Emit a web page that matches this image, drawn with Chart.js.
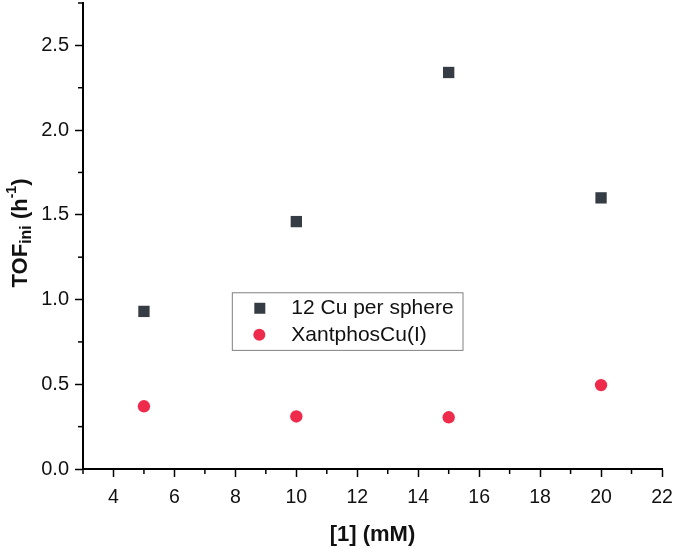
<!DOCTYPE html>
<html>
<head>
<meta charset="utf-8">
<script src="https://cdn.jsdelivr.net/npm/chart.js@4/dist/chart.umd.min.js"></script>
<style>
  html, body { margin: 0; padding: 0; background: #fff; }
  #wrap { width: 677px; height: 548px; }
</style>
</head>
<body>
<div id="wrap"><canvas id="c" width="677" height="548"></canvas></div>
<script>
// data
const concentrations = [5, 10, 15, 20];
const cuSphere = [0.93, 1.46, 2.34, 1.60];
const xantphos = [0.37, 0.31, 0.305, 0.495];
const seriesNames = ["12 Cu per sphere", "XantphosCu(I)"];
const xTicks = [4, 6, 8, 10, 12, 14, 16, 18, 20, 22];
const yTicks = [0, 0.5, 1.0, 1.5, 2.0, 2.5];

const FONT = "'Liberation Sans', Arial, sans-serif";
const squareColor = "#353c44";
const circleColor = "#ef2b4c";

// minor ticks, y title with sub/superscript, and the boxed legend
const extrasPlugin = {
    id: "extras",
    afterDraw(chart) {
        const ctx = chart.ctx;
        const xs = chart.scales.x, ys = chart.scales.y;
        const area = chart.chartArea;
        ctx.save();
        ctx.strokeStyle = "#000";
        ctx.lineWidth = 1.5;
        // minor ticks
        for (let v = 3; v <= 21; v += 2) {
            const px = xs.getPixelForValue(v);
            ctx.beginPath();
            ctx.moveTo(px, area.bottom);
            ctx.lineTo(px, area.bottom + 5);
            ctx.stroke();
        }
        for (let v = 0.25; v <= 2.75; v += 0.5) {
            const py = ys.getPixelForValue(v);
            ctx.beginPath();
            ctx.moveTo(area.left, py);
            ctx.lineTo(area.left - 5, py);
            ctx.stroke();
        }

        // y axis title
        const parts = [
            { t: "TOF", size: 22, dy: 0 },
            { t: "ini", size: 16, dy: 6 },
            { t: " (h", size: 22, dy: 0 },
            { t: "-1", size: 14, dy: -9 },
            { t: ")", size: 22, dy: 0 },
        ];
        let total = 0;
        parts.forEach((p) => {
            ctx.font = "bold " + p.size + "px " + FONT;
            p.w = ctx.measureText(p.t).width;
            total += p.w;
        });
        ctx.translate(21, 233);
        ctx.rotate(-Math.PI / 2);
        ctx.fillStyle = "#111";
        ctx.textBaseline = "middle";
        ctx.textAlign = "left";
        let cx = -total / 2;
        parts.forEach((p) => {
            ctx.font = "bold " + p.size + "px " + FONT;
            ctx.fillText(p.t, cx, p.dy);
            cx += p.w;
        });
        ctx.restore();

        // legend box
        ctx.save();
        const lx = xs.getPixelForValue(7.9), rx = xs.getPixelForValue(15.47);
        const ty = ys.getPixelForValue(1.04), by = ys.getPixelForValue(0.70);
        ctx.strokeStyle = "#808080";
        ctx.lineWidth = 1;
        ctx.strokeRect(lx, ty, rx - lx, by - ty);
        const rowY = [ty + 15, ty + 42];
        ctx.font = "21px " + FONT;
        ctx.textBaseline = "middle";
        ctx.fillStyle = "#111";
        ctx.fillText(seriesNames[0], lx + 59, rowY[0]);
        ctx.fillText(seriesNames[1], lx + 59, rowY[1]);
        ctx.fillStyle = squareColor;
        ctx.fillRect(lx + 22, rowY[0] - 5, 11, 11);
        ctx.fillStyle = circleColor;
        ctx.beginPath();
        ctx.arc(lx + 27, rowY[1], 6, 0, Math.PI * 2);
        ctx.fill();
        ctx.restore();
    },
};

new Chart(document.getElementById("c"), {
    type: "scatter",
    data: {
        datasets: [
            {
                label: seriesNames[0],
                data: concentrations.map((x, i) => ({ x: x, y: cuSphere[i] })),
                pointStyle: "rect",
                pointRadius: 8,
                backgroundColor: squareColor,
                borderWidth: 0,
            },
            {
                label: seriesNames[1],
                data: concentrations.map((x, i) => ({ x: x, y: xantphos[i] })),
                pointStyle: "circle",
                pointRadius: 6.2,
                backgroundColor: circleColor,
                borderWidth: 0,
            },
        ],
    },
    options: {
        responsive: false,
        animation: false,
        layout: { autoPadding: false, padding: { top: 3, right: 15, left: 0, bottom: 0 } },
        plugins: { legend: { display: false }, tooltip: { enabled: false } },
        scales: {
            x: {
                type: "linear",
                min: 3,
                max: 22,
                afterBuildTicks: (s) => { s.ticks = xTicks.map((v) => ({ value: v })); },
                afterFit: (s) => { s.height = 79; s.paddingLeft = 0; s.paddingRight = 0; },
                border: { display: true, color: "#000", width: 2 },
                grid: { drawOnChartArea: false, drawTicks: true, tickLength: 8, tickColor: "#000", tickWidth: 1.5 },
                ticks: { color: "#111", font: { family: FONT, size: 19.5 }, padding: 9, maxRotation: 0 },
                title: {
                    display: true,
                    text: "[1] (mM)",
                    color: "#111",
                    font: { family: FONT, size: 22, weight: "bold" },
                    padding: { top: 4, bottom: 0 },
                },
            },
            y: {
                type: "linear",
                min: 0,
                max: 2.75,
                afterBuildTicks: (s) => { s.ticks = yTicks.map((v) => ({ value: v })); },
                afterFit: (s) => { s.width = 83; s.paddingTop = 0; s.paddingBottom = 0; },
                border: { display: true, color: "#000", width: 2 },
                grid: { drawOnChartArea: false, drawTicks: true, tickLength: 8, tickColor: "#000", tickWidth: 1.5 },
                ticks: {
                    color: "#111",
                    font: { family: FONT, size: 20 },
                    padding: 6,
                    callback: (v) => Number(v).toFixed(1),
                },
            },
        },
    },
    plugins: [extrasPlugin],
});
</script>
</body>
</html>
